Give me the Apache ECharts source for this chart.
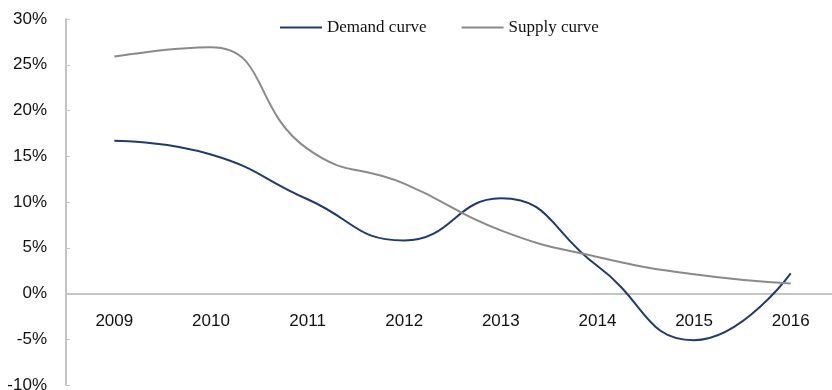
<!DOCTYPE html>
<html><head><meta charset="utf-8">
<script src="https://cdn.jsdelivr.net/npm/echarts@6/dist/echarts.min.js"></script>
<style>html,body{margin:0;padding:0;background:#fff}#c{width:832px;height:390px}</style>
</head><body><div id="c"></div>
<script>
const years = ['2009','2010','2011','2012','2013','2014','2015','2016'];
const demand = [16.7, 15.2, 10.3, 5.8, 10.4, 3.0, -5.1, 2.2];
const supply = [25.9, 26.9, 15.8, 12.0, 6.9, 4.0, 2.1, 1.1];
const yTicks = {min: -10, max: 30, interval: 5};

const gridTop = 19, gridBottomPx = 385;
const gridH = gridBottomPx - gridTop;
const zeroOffset = -gridH * (0 - yTicks.min) / (yTicks.max - yTicks.min);

const chart = echarts.init(document.getElementById('c'));
chart.setOption({
  animation: false,
  grid: {left: 66, top: gridTop, width: 773, height: gridH, containLabel: false, outerBoundsMode: 'none'},
  legend: {
    left: 275, top: 14, itemGap: 35, itemWidth: 42, itemHeight: 2,
    icon: 'rect',
    textStyle: {fontFamily: 'Liberation Serif', fontSize: 17, color: '#111'},
    data: ['Demand curve', 'Supply curve']
  },
  xAxis: {
    type: 'category', data: years, boundaryGap: true,
    position: 'bottom', offset: zeroOffset,
    axisLine: {onZero: false, lineStyle: {color: '#c4c4c4', width: 2}},
    axisTick: {inside: true, length: 4, lineStyle: {color: '#c4c4c4'}},
    axisLabel: {margin: 19, fontFamily: 'Liberation Sans', fontSize: 17, color: '#111'}
  },
  yAxis: {
    type: 'value', min: yTicks.min, max: yTicks.max, interval: yTicks.interval,
    axisLine: {show: true, lineStyle: {color: '#c4c4c4', width: 2}},
    axisTick: {show: true, inside: true, length: 4, lineStyle: {color: '#c4c4c4'}},
    splitLine: {show: false},
    axisLabel: {margin: 19, fontFamily: 'Liberation Sans', fontSize: 17, color: '#111', formatter: v => v + '%'}
  },
  series: [
    {name: 'Demand curve', type: 'line', data: demand, smooth: 0.5, symbol: 'none',
     lineStyle: {color: '#1f3b6b', width: 2}, itemStyle: {color: '#1f3b6b'}},
    {name: 'Supply curve', type: 'line', data: supply, smooth: 0.5, symbol: 'none',
     lineStyle: {color: '#8a8a8a', width: 2}, itemStyle: {color: '#8a8a8a'}}
  ]
});
</script></body></html>
